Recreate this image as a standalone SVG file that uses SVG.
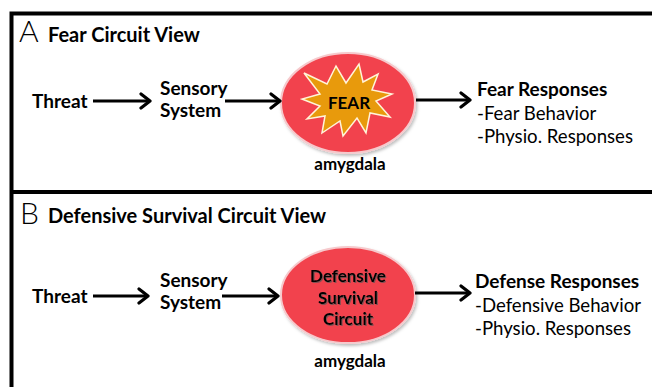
<svg xmlns="http://www.w3.org/2000/svg" width="652" height="387" viewBox="0 0 652 387">
<style>
text{font-family:Lato,"Open Sans","Liberation Sans",sans-serif;fill:#000}
.b{font-weight:bold;font-size:19px}
.n{font-size:18.6px}
.big{font-family:Lato,"Liberation Sans",sans-serif;font-size:30px;font-weight:300}
.h{font-weight:bold;font-size:20px}
.r{font-weight:bold;font-size:19px}
.c{font-weight:bold;font-size:17px;text-anchor:middle}
.conn{stroke:#000;stroke-width:3;fill:none}
.frame{stroke:#000;stroke-width:4;fill:none}
.ell{fill:#F2434E;stroke:#F6C9CC;stroke-width:2;filter:url(#sh)}
</style>
<defs>
<marker id="ah" markerUnits="userSpaceOnUse" markerWidth="16" markerHeight="18" refX="13" refY="9" orient="auto">
<path d="M4,2 L13,9 L4,16" fill="none" stroke="#000" stroke-width="3.2" stroke-linecap="round" stroke-linejoin="round"/>
</marker>
<filter id="sh" x="-20%" y="-20%" width="140%" height="140%">
<feDropShadow dx="1.5" dy="2" stdDeviation="1.5" flood-color="#000" flood-opacity="0.25"/>
</filter>
<filter id="ts" x="-10%" y="-10%" width="120%" height="130%">
<feDropShadow dx="1" dy="1" stdDeviation="0.6" flood-color="#555" flood-opacity="0.7"/>
</filter>
</defs>

<g id="frame">
<path class="frame" d="M11.5,387 V13.5 H652"/>
<line class="frame" x1="11.5" y1="192" x2="652" y2="192"/>
</g>

<g id="panelA-title">
<text class="big" x="19" y="42">A</text>
<text class="h" x="48" y="42">Fear Circuit View</text>
</g>
<g id="threatA"><text class="b" x="32" y="108">Threat</text></g>
<g id="sensoryA"><text class="b" x="160" y="95">Sensory</text><text class="b" x="160" y="117">System</text></g>
<g id="amygdalaA">
<ellipse class="ell" cx="348" cy="103" rx="67" ry="50"/>
<polygon fill="#E89A0C" stroke="#FFF4D8" stroke-width="1.5" points="359,64 363,82 378,74 372,90 392,94 376,101 390,117 370,113 366,133 357,118 343,136 340,121 322,133 325,116 307,119 320,106 302,99 320,94 304,73 327,84 336,66 346,83"/>
<text class="c" x="349" y="109">FEAR</text>
<text class="c" x="350" y="170">amygdala</text>
</g>
<g id="responsesA">
<text class="r" x="477" y="96">Fear Responses</text>
<text class="n" x="477" y="120">-Fear Behavior</text>
<text class="n" x="477" y="143">-Physio. Responses</text>
</g>

<g id="panelB-title">
<text class="big" x="20" y="224">B</text>
<text class="h" x="48" y="223">Defensive Survival Circuit View</text>
</g>
<g id="threatB"><text class="b" x="32" y="303">Threat</text></g>
<g id="sensoryB"><text class="b" x="160" y="287">Sensory</text><text class="b" x="160" y="309">System</text></g>
<g id="amygdalaB">
<ellipse class="ell" cx="348" cy="295" rx="67" ry="48"/>
<g filter="url(#ts)">
<text class="c" x="348" y="282">Defensive</text>
<text class="c" x="348" y="304">Survival</text>
<text class="c" x="348" y="325">Circuit</text>
</g>
<text class="c" x="350" y="367">amygdala</text>
</g>
<g id="responsesB">
<text class="r" x="475" y="288">Defense Responses</text>
<text class="n" x="475" y="312">-Defensive Behavior</text>
<text class="n" x="475" y="335">-Physio. Responses</text>
</g>

<g id="connectors">
<line class="conn" x1="93" y1="101" x2="150" y2="101" marker-end="url(#ah)"/>
<line class="conn" x1="225" y1="101" x2="280" y2="101" marker-end="url(#ah)"/>
<line class="conn" x1="416" y1="100" x2="470" y2="100" marker-end="url(#ah)"/>
<line class="conn" x1="93" y1="296" x2="148" y2="296" marker-end="url(#ah)"/>
<line class="conn" x1="222" y1="296" x2="278" y2="296" marker-end="url(#ah)"/>
<line class="conn" x1="415" y1="293" x2="470" y2="293" marker-end="url(#ah)"/>
</g>
</svg>
